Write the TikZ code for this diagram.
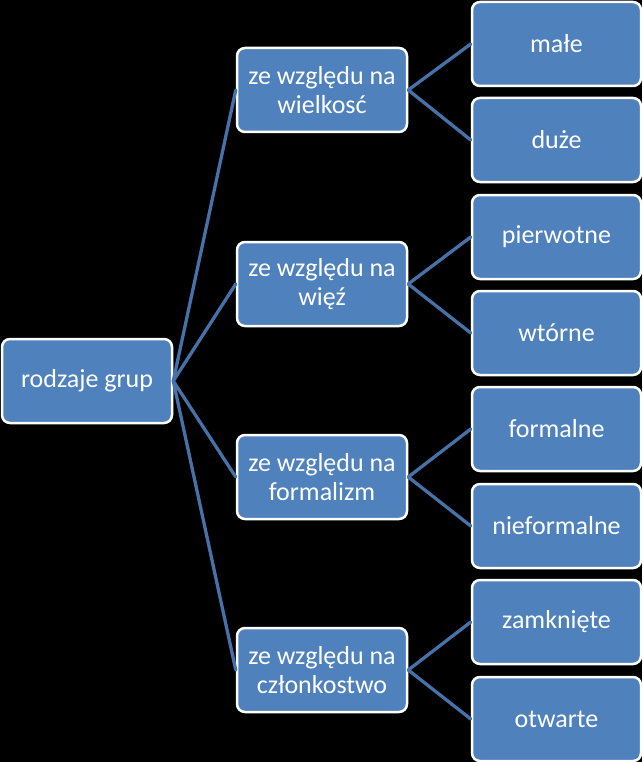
\documentclass[tikz,border=0pt]{standalone}
\usepackage{fontspec}
\setmainfont{Carlito}
\definecolor{boxblue}{HTML}{4F81BD}
\definecolor{lineblue}{HTML}{4672A9}
\begin{document}
\begin{tikzpicture}[x=1pt, y=-1pt, font=\fontsize{26}{29}\selectfont, line join=round, line cap=round,
	box/.style={draw=white, line width=2.5pt, fill=boxblue, rounded corners=8pt, text=white, align=center,
		minimum width=170pt, minimum height=84pt, inner sep=0pt},
	conn/.style={draw=lineblue, line width=3.3pt}]
	\fill[black] (0,0) rectangle (642,762);
	\useasboundingbox (0,0) rectangle (642,762);
	% korzen
	\node[box] (root) at (87,381) {rodzaje grup};
	% kryteria
	\node[box] (wielk) at (322,90) {ze względu na\\wielkosć};
	\node[box] (wiez) at (322,284) {ze względu na\\więź};
	\node[box] (form) at (322,477) {ze względu na\\formalizm};
	\node[box] (czlon) at (322,670) {ze względu na\\członkostwo};
	% rodzaje
	\node[box, minimum width=169pt] (male) at (556.5,44) {małe};
	\node[box, minimum width=169pt] (duze) at (556.5,140) {duże};
	\node[box, minimum width=169pt] (pierw) at (556.5,237) {pierwotne};
	\node[box, minimum width=169pt] (wtor) at (556.5,333) {wtórne};
	\node[box, minimum width=169pt] (formal) at (556.5,429) {formalne};
	\node[box, minimum width=169pt] (nieform) at (556.5,526) {nieformalne};
	\node[box, minimum width=169pt] (zamk) at (556.5,622) {zamknięte};
	\node[box, minimum width=169pt] (otw) at (556.5,719) {otwarte};
	% polaczenia
	\foreach \m in {wielk,wiez,form,czlon}
		\draw[conn] (root.east) -- (\m.west);
	\draw[conn] (wielk.east) -- (male.west);
	\draw[conn] (wielk.east) -- (duze.west);
	\draw[conn] (wiez.east) -- (pierw.west);
	\draw[conn] (wiez.east) -- (wtor.west);
	\draw[conn] (form.east) -- (formal.west);
	\draw[conn] (form.east) -- (nieform.west);
	\draw[conn] (czlon.east) -- (zamk.west);
	\draw[conn] (czlon.east) -- (otw.west);
\end{tikzpicture}
\end{document}
